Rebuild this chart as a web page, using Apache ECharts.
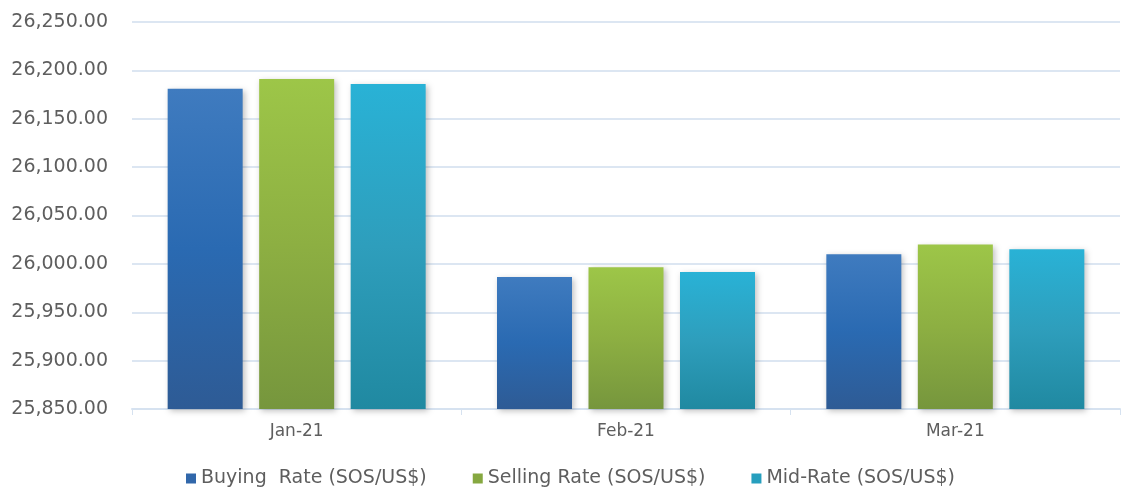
<!DOCTYPE html>
<html>
<head>
<meta charset="utf-8">
<script src="https://cdn.jsdelivr.net/npm/echarts@6/dist/echarts.min.js"></script>
<style>
html, body { margin: 0; padding: 0; background: #fff; }
#main { width: 1121px; height: 488px; }
</style>
</head>
<body>
<div id="main"></div>
<script>
// 数据
var months = ['Jan-21', 'Feb-21', 'Mar-21'];
var buyingRate = [26181, 25986.5, 26010];
var sellingRate = [26191, 25996.5, 26020];
var midRate = [26186, 25991.5, 26015];
var seriesNames = ['Buying  Rate (SOS/US$)', 'Selling Rate (SOS/US$)', 'Mid-Rate (SOS/US$)'];

var myChart = echarts.init(document.getElementById('main'));

function grad(top, mid, bottom) {
    return new echarts.graphic.LinearGradient(0, 0, 0, 1, [
        { offset: 0, color: top },
        { offset: 0.5, color: mid },
        { offset: 1, color: bottom }
    ]);
}

function barSeries(name, data, color) {
    return {
        name: name,
        type: 'bar',
        data: data,
        barWidth: 75,
        barGap: '22%',
        itemStyle: {
            color: color,
            shadowBlur: 6,
            shadowColor: 'rgba(0,0,0,0.25)',
            shadowOffsetX: 2,
            shadowOffsetY: 2
        }
    };
}

var textFont = 'DejaVu Sans';

var option = {
    animation: false,
    textStyle: { fontFamily: textFont },
    legend: {
        top: 464,
        left: 181,
        itemWidth: 10,
        itemHeight: 10,
        itemGap: 46,
        icon: 'rect',
        textStyle: { fontSize: 19, color: '#5e5e5e', fontFamily: textFont },
        data: [
            { name: seriesNames[0], itemStyle: { color: '#3167AA' } },
            { name: seriesNames[1], itemStyle: { color: '#86A840' } },
            { name: seriesNames[2], itemStyle: { color: '#269FBE' } }
        ]
    },
    grid: { left: 132, right: 1, top: 22, bottom: 79 },
    xAxis: {
        type: 'category',
        data: months,
        axisLine: { lineStyle: { color: '#D6E2F0', width: 2 } },
        axisTick: { show: true, length: 6, lineStyle: { color: '#D6E2F0' } },
        axisLabel: { fontSize: 17, color: '#5e5e5e', margin: 14 }
    },
    yAxis: {
        type: 'value',
        min: 25850,
        max: 26250,
        interval: 50,
        axisLine: { show: false },
        axisTick: { show: false },
        splitLine: { lineStyle: { color: '#DCE6F2', width: 2 } },
        axisLabel: {
            fontSize: 19,
            color: '#5e5e5e',
            margin: 24,
            formatter: function (v) {
                return v.toLocaleString('en-US', { minimumFractionDigits: 2, maximumFractionDigits: 2 });
            }
        }
    },
    series: [
        barSeries(seriesNames[0], buyingRate, grad('#3F7BBF', '#2A6AB2', '#2E5B95')),
        barSeries(seriesNames[1], sellingRate, grad('#9DC648', '#8DAF42', '#76963D')),
        barSeries(seriesNames[2], midRate, grad('#29B2D6', '#2E9EBC', '#2089A1'))
    ]
};

myChart.setOption(option);
</script>
</body>
</html>
